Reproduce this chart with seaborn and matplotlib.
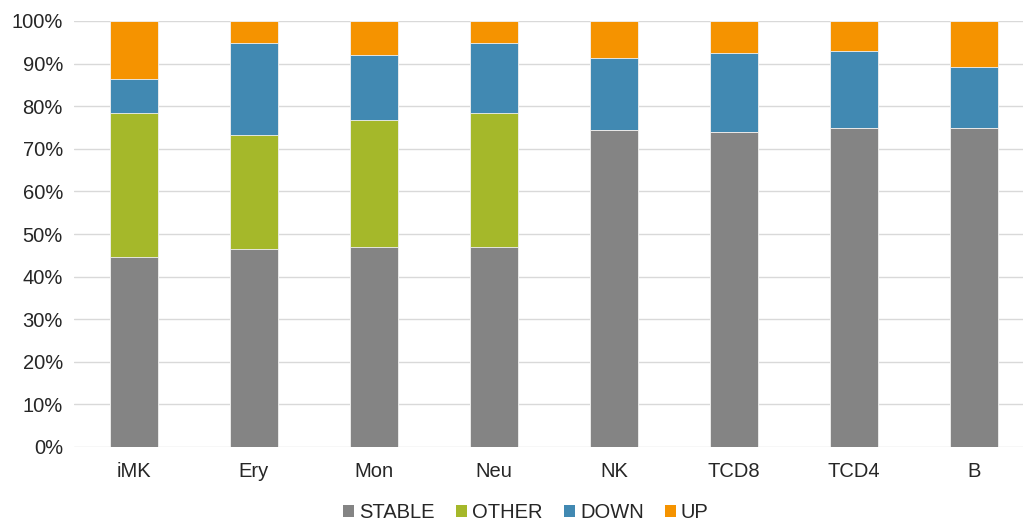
import numpy as np
import pandas as pd
import matplotlib
matplotlib.use("Agg")
import matplotlib.pyplot as plt
import seaborn as sns
from matplotlib.patches import Patch
from matplotlib.ticker import PercentFormatter

# Cell types and per-category shares (%)
cells = ["iMK", "Ery", "Mon", "Neu", "NK", "TCD8", "TCD4", "B"]
stable = [44.5, 46.4, 46.9, 46.9, 74.4, 73.9, 74.8, 74.8]
other = [34.0, 26.9, 29.8, 31.6, 0.0, 0.0, 0.0, 0.0]
down = [8.0, 21.6, 15.4, 16.4, 16.8, 18.7, 18.2, 14.5]
up = [13.5, 5.1, 7.9, 5.1, 8.8, 7.4, 7.0, 10.7]

series = ["STABLE", "OTHER", "DOWN", "UP"]
colors = {"STABLE": "#848484", "OTHER": "#A5B82A", "DOWN": "#4189B2", "UP": "#F59300"}

df = pd.DataFrame({"cell": cells, "STABLE": stable, "OTHER": other,
                   "DOWN": down, "UP": up})
# cumulative tops, as fractions of 1
cum = df[series].cumsum(axis=1) / 100.0
cum["cell"] = df["cell"]

sns.set_theme(style="white")
plt.rcParams["font.family"] = ["Liberation Sans", "DejaVu Sans"]

fig = plt.figure(figsize=(10.23, 5.23), dpi=100)
ax = fig.add_axes([74 / 1023, (523 - 447) / 523, 960 / 1023, 426 / 523])

# draw the tallest stack first, then overlay the shorter ones
for name in reversed(series):
    sns.barplot(data=cum, x="cell", y=name, order=cells, color=colors[name],
                width=0.4, edgecolor="#f2f2f2", linewidth=0.6,
                saturation=1, ax=ax, zorder=3)

ax.set_ylim(0, 1)
ax.set_xlim(-0.5, len(cells) - 0.5)
ax.set_yticks(np.arange(0, 1.01, 0.1))
ax.yaxis.set_major_formatter(PercentFormatter(1.0, decimals=0))
ax.grid(axis="y", color="#d9d9d9", linewidth=1, zorder=0)
ax.set_axisbelow(True)
for s in ax.spines.values():
    s.set_visible(False)
ax.set_xlabel("")
ax.set_ylabel("")
ax.tick_params(axis="y", length=0, pad=8, labelsize=14.5, labelcolor="#262626")
ax.tick_params(axis="x", length=0, pad=11, labelsize=14.5, labelcolor="#262626")

handles = [Patch(facecolor=colors[n], edgecolor="none", label=n) for n in series]
fig.legend(handles=handles, loc="center", bbox_to_anchor=(526 / 1023, 10 / 523),
           ncol=4, frameon=False, fontsize=14.5, handlelength=0.55, handleheight=0.55,
           handletextpad=0.25, columnspacing=1.05, labelcolor="#262626")

fig.savefig("out.png", dpi=100)
